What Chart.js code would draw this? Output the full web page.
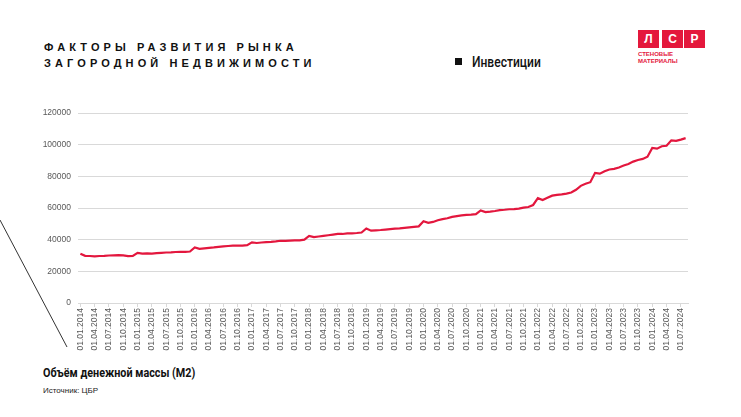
<!DOCTYPE html>
<html lang="ru">
<head>
<meta charset="utf-8">
<script src="https://cdn.jsdelivr.net/npm/chart.js@4.4.1/dist/chart.umd.min.js"></script>
<style>
  html, body { margin: 0; padding: 0; background: #fff; }
  body { width: 741px; height: 417px; position: relative; overflow: hidden; font-family: "Liberation Sans", Arial, sans-serif; }
  .title { position: absolute; left: 44px; top: 39px; font-weight: bold; font-size: 11px; line-height: 16px; letter-spacing: 4.1px; color: #111; }
  .legend { position: absolute; left: 455px; top: 54px; font-size: 14px; font-weight: 500; color: #111; font-family: "Roboto", sans-serif; }
  .legend .mark { display: inline-block; width: 7px; height: 7px; background: #111; margin-right: 10px; vertical-align: 2px; }
  .legend .txt { display: inline-block; transform: scaleX(0.86); transform-origin: left center; }
  .logo { position: absolute; left: 638px; top: 30px; }
  .logo .sq { position: absolute; top: 0; width: 21px; height: 18px; background: #e4183c; color: #fff; font-weight: bold; font-size: 12px; text-align: center; line-height: 18px; }
  .logo .cap { position: absolute; left: 0; top: 21px; color: #e4183c; font-weight: bold; font-size: 6px; line-height: 6.5px; white-space: nowrap; }
  .diag { position: absolute; left: 0; top: 0; }
  .chart-box { position: absolute; left: 0; top: 100px; width: 741px; height: 263px; }
  .caption { position: absolute; left: 43px; top: 365px; font-weight: bold; font-size: 13px; color: #111; font-family: "Roboto", sans-serif; transform: scaleX(0.83); transform-origin: left center; white-space: nowrap; }
  .source { position: absolute; left: 43px; top: 386px; font-size: 8px; color: #222; }
</style>
</head>
<body>
<div class="title">ФАКТОРЫ РАЗВИТИЯ РЫНКА<br>ЗАГОРОДНОЙ НЕДВИЖИМОСТИ</div>
<div class="legend"><span class="mark"></span><span class="txt">Инвестиции</span></div>
<div class="logo">
  <div class="sq" style="left:0">Л</div>
  <div class="sq" style="left:24px">С</div>
  <div class="sq" style="left:46px">Р</div>
  <div class="cap">СТЕНОВЫЕ<br>МАТЕРИАЛЫ</div>
</div>
<svg class="diag" width="741" height="417"><line x1="0" y1="220" x2="67" y2="347" stroke="#333" stroke-width="1"/></svg>
<div class="chart-box"><canvas id="m2Chart"></canvas></div>
<div class="caption">Объём денежной массы (М2)</div>
<div class="source">Источник: ЦБР</div>

<script>
// денежная масса М2, млрд руб., на 1-е число месяца
const startYear = 2014;
const m2_2014 = [31100, 29800, 29700, 29500, 29700, 29800, 30000, 30100, 30200, 30100, 29600, 29700];
const m2_2015 = [31700, 31200, 31300, 31200, 31500, 31700, 31900, 32000, 32200, 32300, 32300, 32500];
const m2_2016 = [35100, 34200, 34500, 34800, 35100, 35500, 35800, 36000, 36200, 36300, 36200, 36500];
const m2_2017 = [38300, 37900, 38200, 38400, 38600, 38900, 39300, 39200, 39400, 39500, 39600, 40000];
const m2_2018 = [42400, 41600, 42000, 42400, 42800, 43200, 43600, 43600, 44000, 44000, 44200, 44500];
const m2_2019 = [47100, 45700, 45900, 46100, 46400, 46700, 47000, 47100, 47500, 47800, 48100, 48400];
const m2_2020 = [51600, 50600, 51200, 52300, 53000, 53500, 54400, 54900, 55300, 55700, 55800, 56100];
const m2_2021 = [58500, 57400, 57700, 58100, 58700, 58900, 59200, 59300, 59600, 60200, 60600, 61900];
const m2_2022 = [66200, 65000, 66400, 67800, 68300, 68600, 69100, 69800, 71500, 74000, 75300, 76300];
const m2_2023 = [82200, 81700, 83200, 84300, 84700, 85600, 86800, 87800, 89300, 90300, 91000, 92400];
const m2_2024 = [97900, 97500, 99000, 99300, 102700, 102400, 103200, 104100];

const seriesName = 'Инвестиции';
const yTicks = [0, 20000, 40000, 60000, 80000, 100000, 120000];

const values = [].concat(m2_2014, m2_2015, m2_2016, m2_2017, m2_2018, m2_2019,
                         m2_2020, m2_2021, m2_2022, m2_2023, m2_2024);

const pad = (n) => String(n).padStart(2, '0');
const labels = values.map((_, i) => {
  const y = startYear + Math.floor(i / 12);
  const m = (i % 12) + 1;
  return `01.${pad(m)}.${y}`;
});

const ctx = document.getElementById('m2Chart').getContext('2d');
new Chart(ctx, {
  type: 'line',
  data: {
    labels: labels,
    datasets: [{
      label: seriesName,
      data: values,
      borderColor: '#e3173e',
      borderWidth: 2.2,
      pointRadius: 0,
      tension: 0,
      fill: false
    }]
  },
  options: {
    responsive: true,
    maintainAspectRatio: false,
    animation: false,
    layout: { padding: { top: 13, right: 53, left: 0, bottom: 0 } },
    plugins: {
      legend: { display: false },
      tooltip: { enabled: false }
    },
    scales: {
      x: {
        type: 'category',
        offset: true,
        afterFit: (scale) => { scale.height = 60; },
        grid: { drawOnChartArea: false, drawTicks: true, tickLength: 4, color: '#d9d9d9' },
        border: { display: true, color: '#d9d9d9' },
        ticks: {
          autoSkip: false,
          minRotation: 90,
          maxRotation: 90,
          padding: 1,
          color: '#595959',
          font: { family: 'Liberation Sans', size: 8.5 },
          callback: function (val, idx) {
            return idx % 3 === 0 ? this.getLabelForValue(val) : null;
          }
        }
      },
      y: {
        min: 0,
        max: 120000,
        afterFit: (scale) => { scale.width = 78; },
        afterBuildTicks: (scale) => { scale.ticks = yTicks.map(v => ({ value: v })); },
        grid: { color: '#d9d9d9', drawTicks: false, lineWidth: 1 },
        border: { display: false },
        ticks: {
          padding: 7,
          color: '#595959',
          font: { family: 'Liberation Sans', size: 8.5 },
          callback: (v) => String(v)
        }
      }
    }
  }
});
</script>
</body>
</html>
